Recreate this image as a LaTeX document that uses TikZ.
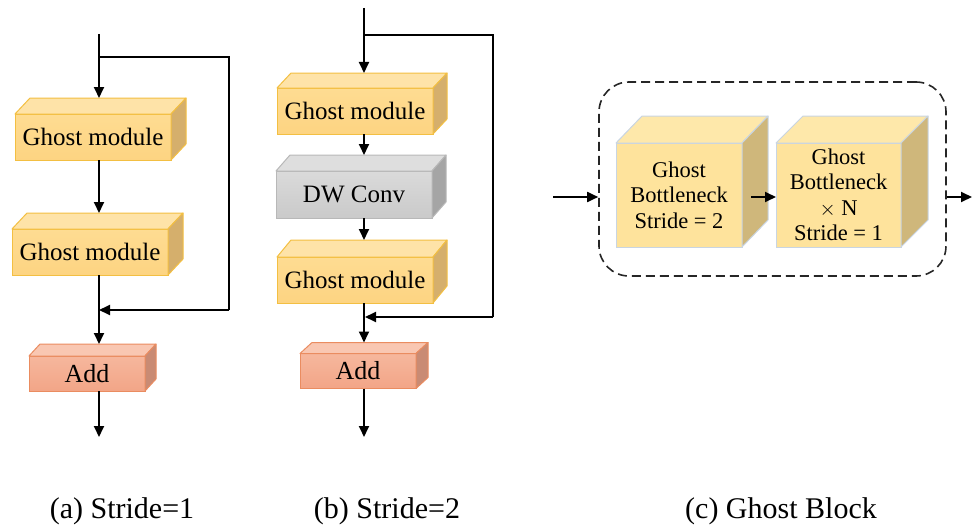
\documentclass[tikz,border=0pt]{standalone}
\usepackage{fontspec}
\setmainfont{Liberation Serif}
\usetikzlibrary{calc,arrows.meta}
\definecolor{gmfront}{HTML}{FDD482}
\definecolor{gmfrontt}{HTML}{FEDC92}
\definecolor{gmtop}{HTML}{FEE3A8}
\definecolor{gmside}{HTML}{D5AF6C}
\definecolor{gmedge}{HTML}{F3BF42}
\definecolor{adfront}{HTML}{F2A587}
\definecolor{adfrontt}{HTML}{F6B79D}
\definecolor{adtop}{HTML}{F9C7B2}
\definecolor{adside}{HTML}{C98B74}
\definecolor{adedge}{HTML}{EA8C60}
\definecolor{dwfront}{HTML}{CACACA}
\definecolor{dwfrontt}{HTML}{DADADA}
\definecolor{dwtop}{HTML}{DEDEDE}
\definecolor{dwside}{HTML}{A5A5A5}
\definecolor{dwedge}{HTML}{B8B8B8}
\definecolor{bnfront}{HTML}{FEE39C}
\definecolor{bntop}{HTML}{FEE8AA}
\definecolor{bnside}{HTML}{CFB77B}
\definecolor{bnedge}{HTML}{C9D5E2}
\newcommand\cubefaces[6]{%
  \filldraw[fill=#4, draw=#6, line width=1pt, line join=round]
    (#1.north west) -- ++(#2,-#3) -- ($(#1.north east)+(#2,-#3)$) -- (#1.north east) -- cycle;
  \filldraw[fill=#5, draw=#6, line width=1pt, line join=round]
    (#1.north east) -- ++(#2,-#3) -- ($(#1.south east)+(#2,-#3)$) -- (#1.south east) -- cycle;
  \coordinate (#1b) at ($(#1.north)+(#2,-#3)$);
}
\tikzset{
  x=1pt, y=-1pt,
  face/.style={rectangle, outer sep=0pt, inner sep=0pt, line width=1pt, font=\fontsize{25}{30}\selectfont},
  gm/.style={face, draw=gmedge, top color=gmfrontt, bottom color=gmfront, minimum width=156pt, minimum height=46pt},
  dw/.style={face, draw=dwedge, top color=dwfrontt, bottom color=dwfront, minimum width=156pt, minimum height=47pt},
  ad/.style={face, draw=adedge, top color=adfrontt, bottom color=adfront, minimum width=116pt, minimum height=35pt, font=\fontsize{26}{30}\selectfont},
  bn/.style={face, draw=bnedge, fill=bnfront, minimum height=104pt, align=center, font=\fontsize{22.5}{25.5}\selectfont},
  arr/.style={line width=1.8pt, -{Triangle[length=11pt,width=10pt]}},
  ln/.style={line width=1.8pt},
  captext/.style={font=\fontsize{30}{36}\selectfont, anchor=base},
}
\begin{document}
\begin{tikzpicture}
\useasboundingbox (0,0) rectangle (974,527);
% ---------- (a) ----------
\node[gm] (g1) at (93,137) {Ghost module};
\cubefaces{g1}{15}{16}{gmtop}{gmside}{gmedge}
\node[gm] (g2) at (90,252) {Ghost module};
\cubefaces{g2}{15}{16}{gmtop}{gmside}{gmedge}
\node[ad] (adA) at (87,373.5) {Add};
\cubefaces{adA}{11}{12}{adtop}{adside}{adedge}
\coordinate (inA) at (99,34);
\coordinate (brA) at (99,57);
\coordinate (rtA) at (229,57);
\coordinate (rbA) at (229,310);
\coordinate (mgA) at (99,310);
\coordinate (outA) at (99,437);
\draw[arr] (inA) -- (inA |- g1b);
\draw[ln] (brA) -- (rtA) -- (rbA);
\draw[arr] (rbA) -- (mgA);
\draw[arr] (inA |- g1.south) -- (inA |- g2b);
\draw[arr] (inA |- g2.south) -- (inA |- adAb);
\draw[arr] (inA |- adA.south) -- (outA);
\node[captext] (capA) at (122,518) {(a) Stride=1};
% ---------- (b) ----------
\node[gm] (h1) at (355,111) {Ghost module};
\cubefaces{h1}{14}{15}{gmtop}{gmside}{gmedge}
\node[dw] (dwc) at (354,194.5) {DW Conv};
\cubefaces{dwc}{14}{16}{dwtop}{dwside}{dwedge}
\node[gm] (h2) at (355,280) {Ghost module};
\cubefaces{h2}{14}{17}{gmtop}{gmside}{gmedge}
\node[ad] (adB) at (358,371) {Add};
\cubefaces{adB}{12}{11}{adtop}{adside}{adedge}
\coordinate (inB) at (364,8);
\coordinate (brB) at (364,35);
\coordinate (rtB) at (493,35);
\coordinate (rbB) at (493,317);
\coordinate (mgB) at (365,317);
\coordinate (outB) at (364,437);
\draw[arr] (inB) -- (inB |- h1b);
\draw[ln] (brB) -- (rtB) -- (rbB);
\draw[arr] (rbB) -- (mgB);
\draw[arr] (inB |- h1.south) -- (inB |- dwcb);
\draw[arr] (inB |- dwc.south) -- (inB |- h2b);
\draw[arr] (inB |- h2.south) -- (inB |- adBb);
\draw[arr] (inB |- adB.south) -- (outB);
\node[captext] (capB) at (387,518) {(b) Stride=2};
% ---------- (c) ----------
\node[draw=black!85, line width=1.6pt, dash pattern=on 9pt off 5pt, rounded corners=30pt,
      minimum width=347pt, minimum height=194pt, inner sep=0pt] (blk) at (772.5,179) {};
\node[bn, minimum width=126pt] (bn1) at (679,195) {Ghost\\Bottleneck\\Stride = 2};
\cubefaces{bn1}{26}{27}{bntop}{bnside}{bnedge}
\node[bn, minimum width=125pt] (bn2) at (838.5,195) {Ghost\\Bottleneck\\$\times$ N\\Stride = 1};
\cubefaces{bn2}{27}{27}{bntop}{bnside}{bnedge}
\coordinate (inC) at (553,197);
\coordinate (outC) at (972,197);
\draw[arr] (inC) -- (inC -| blk.west);
\draw[arr] ($(bn1.east)+(9,2)$) -- (bn2.west |- 0,197);
\draw[arr] (outC -| blk.east) -- (outC);
\node[captext] (capC) at (781,518) {(c) Ghost Block};
\end{tikzpicture}
\end{document}
